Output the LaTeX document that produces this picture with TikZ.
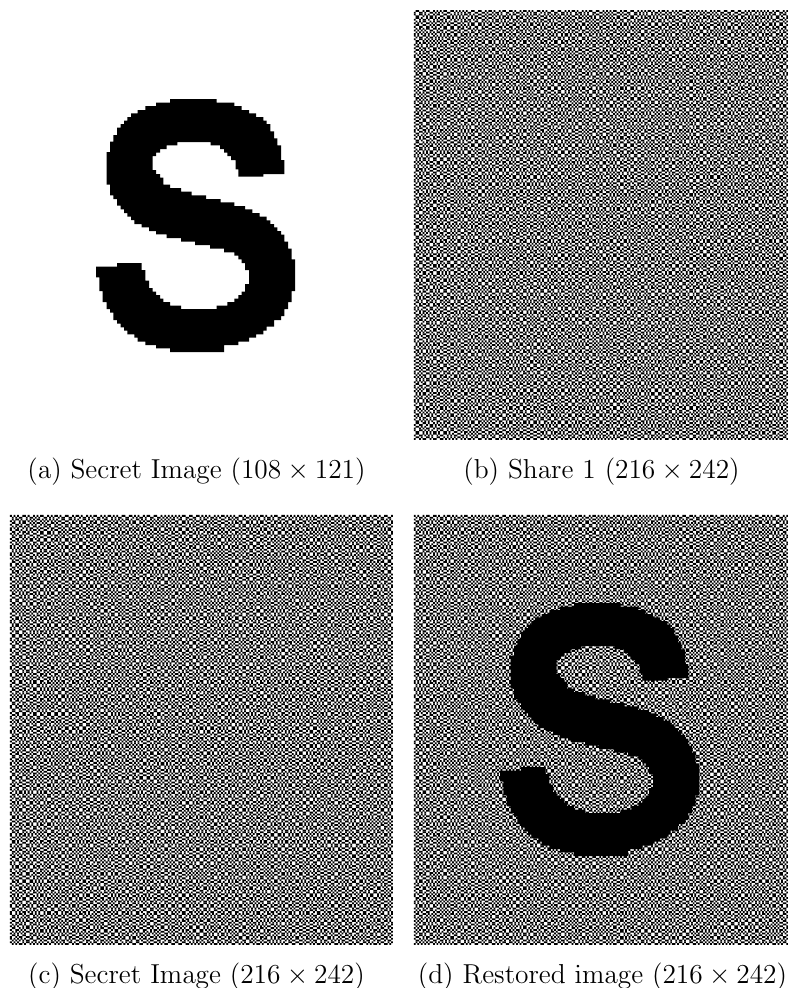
\documentclass[tikz,border=0pt]{standalone}
\usepackage{pgfmath}
\newcount\rowc \newcount\colc
\font\capfont=cmr12 at 27.4pt
\font\capsym=cmsy10 at 27.4pt
\newcommand\capx{\kern6pt{\capsym\char"02}\kern6pt}
\makeatletter
\def\ncol{\ifnum\colc<108
  \begingroup
  \pgfmathrandominteger{\nr}{0}{1}%
  \edef\ia{\the\numexpr 2*\colc\relax}%
  \edef\ib{\the\numexpr 2*\colc+1\relax}%
  \edef\ja{\the\numexpr 2*\rowc\relax}%
  \edef\jb{\the\numexpr 2*\rowc+1\relax}%
  \ifnum\nr=0
    \pgfsys@invoke{\ia\space\ja\space 1 1 re \ib\space\jb\space 1 1 re }%
  \else
    \pgfsys@invoke{\ib\space\ja\space 1 1 re \ia\space\jb\space 1 1 re }%
  \fi
  \endgroup
  \advance\colc by 1
  \expandafter\ncol\fi}
\def\nrow{\ifnum\rowc<121
  \colc=0 \ncol \pgfsys@invoke{f }%
  \advance\rowc by 1
  \expandafter\nrow\fi}
\newcommand\noisepanel[4]{% cell w, cell h, x, y in bp
  \pgfsys@invoke{q #1 0 0 -#2 #3 -#4 cm }%
  \rowc=0
  \nrow
  \pgfsys@invoke{Q }}
\makeatother
\newcommand\Spath{(240,27) -- (380,27) -- (380,38) -- (433,38) -- (433,48) -- (455,48) -- (455,60) -- (477,60) -- (477,70) -- (498,70) -- (498,81) -- (520,81) -- (520,92) -- (530,92) -- (530,102) -- (541,102) -- (541,124) -- (552,124) -- (552,145) -- (562,145) -- (562,166) -- (573,166) -- (573,210) -- (583,210) -- (583,252) -- (520,252) -- (520,260) -- (445,260) -- (445,238) -- (437,238) -- (437,210) -- (423,210) -- (423,198) -- (412,198) -- (412,188) -- (402,188) -- (402,177) -- (390,177) -- (390,166) -- (362,166) -- (362,156) -- (262,156) -- (262,166) -- (230,166) -- (230,177) -- (210,177) -- (210,188) -- (198,188) -- (198,198) -- (188,198) -- (188,240) -- (198,240) -- (198,252) -- (210,252) -- (210,263) -- (220,263) -- (220,284) -- (240,284) -- (240,294) -- (273,294) -- (273,305) -- (305,305) -- (305,316) -- (348,316) -- (348,327) -- (392,327) -- (392,337) -- (433,337) -- (433,348) -- (465,348) -- (465,358) -- (487,358) -- (487,369) -- (509,369) -- (509,380) -- (530,380) -- (530,391) -- (541,391) -- (541,402) -- (552,402) -- (552,412) -- (562,412) -- (562,423) -- (573,423) -- (573,434) -- (583,434) -- (583,455) -- (594,455) -- (594,476) -- (605,476) -- (605,508) -- (615,508) -- (615,603) -- (605,603) -- (605,636) -- (594,636) -- (594,657) -- (583,657) -- (583,678) -- (573,678) -- (573,690) -- (552,690) -- (552,710) -- (530,710) -- (530,722) -- (520,722) -- (520,733) -- (498,733) -- (498,743) -- (477,743) -- (477,755) -- (445,755) -- (445,765) -- (402,765) -- (402,786) -- (240,786) -- (240,775) -- (198,775) -- (198,765) -- (166,765) -- (166,755) -- (143,755) -- (143,743) -- (133,743) -- (133,733) -- (112,733) -- (112,722) -- (102,722) -- (102,712) -- (92,712) -- (92,701) -- (81,701) -- (81,690) -- (70,690) -- (70,668) -- (60,668) -- (60,657) -- (50,657) -- (50,636) -- (38,636) -- (38,603) -- (28,603) -- (28,562) -- (18,562) -- (18,530) -- (81,530) -- (81,519) -- (155,519) -- (155,540) -- (166,540) -- (166,572) -- (177,572) -- (177,594) -- (188,594) -- (188,605) -- (198,605) -- (198,615) -- (210,615) -- (210,626) -- (220,626) -- (220,636) -- (240,636) -- (240,647) -- (273,647) -- (273,657) -- (380,657) -- (380,647) -- (412,647) -- (412,636) -- (433,636) -- (433,626) -- (445,626) -- (445,615) -- (455,615) -- (455,605) -- (465,605) -- (465,582) -- (477,582) -- (477,540) -- (465,540) -- (465,519) -- (455,519) -- (455,508) -- (445,508) -- (445,497) -- (433,497) -- (433,487) -- (402,487) -- (402,476) -- (360,476) -- (360,465) -- (315,465) -- (315,455) -- (273,455) -- (273,444) -- (230,444) -- (230,433) -- (198,433) -- (198,423) -- (177,423) -- (177,412) -- (155,412) -- (155,402) -- (133,402) -- (133,390) -- (123,390) -- (123,380) -- (112,380) -- (112,369) -- (102,369) -- (102,358) -- (92,358) -- (92,347) -- (81,347) -- (81,327) -- (70,327) -- (70,316) -- (60,316) -- (60,284) -- (50,284) -- (50,186) -- (60,186) -- (60,155) -- (70,155) -- (70,135) -- (81,135) -- (81,113) -- (92,113) -- (92,102) -- (102,102) -- (102,92) -- (112,92) -- (112,81) -- (123,81) -- (123,70) -- (143,70) -- (143,60) -- (166,60) -- (166,48) -- (198,48) -- (198,38) -- (240,38) -- cycle}
\tikzset{
  caption/.style={anchor=base,inner sep=0pt,font=\capfont},
  sglyph/.style={x=0.33333pt,y=-0.33333pt}
}
\begin{document}
\begin{tikzpicture}[x=1pt,y=-1pt]
\useasboundingbox (0,0) rectangle (788,988);
\pgfmathsetseed{7}
\noisepanel{1.72500}{1.77021}{412.452}{9.9626}
\noisepanel{1.76652}{1.77021}{9.9626}{513.074}
\noisepanel{1.72500}{1.77021}{412.452}{513.074}
\begin{scope}[shift={(90,90)},sglyph]
  \fill[black] \Spath;
\end{scope}
\begin{scope}[shift={(494,594)},sglyph]
  \fill[black] \Spath;
\end{scope}
\node[caption] (capa) at (196.5,478) {(a) Secret Image (108\capx 121)};
\node[caption] (capb) at (601.5,478) {(b) Share 1 (216\capx 242)};
\node[caption] (capc) at (196.5,983) {(c) Secret Image (216\capx 242)};
\node[caption] (capd) at (602.5,983) {(d) Restored image (216\capx 242)};
\end{tikzpicture}
\end{document}
